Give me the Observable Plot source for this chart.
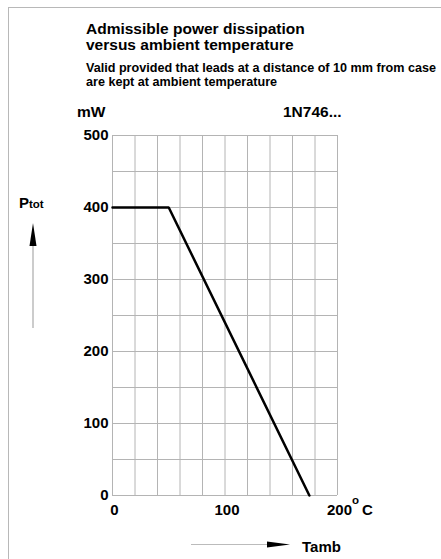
<!DOCTYPE html>
<html><head><meta charset="utf-8">
<script src="https://cdn.jsdelivr.net/npm/d3@7"></script>
<script src="https://cdn.jsdelivr.net/npm/@observablehq/plot@0.6"></script>
<style>
html,body{margin:0;padding:0;background:#fff;}
#wrap{position:relative;width:441px;height:559px;overflow:hidden;font-family:"Liberation Sans",Arial,sans-serif;}
#frame{position:absolute;left:8px;top:7px;width:500px;height:600px;border-left:1px solid #b8b8b8;border-top:1px solid #b8b8b8;}
#chart{position:absolute;left:0;top:0;}
</style></head>
<body><div id="wrap"><div id="frame"></div><div id="chart"></div></div>
<script>
// data
const temps = [0, 50, 175];          // ambient temperature, °C
const power = [400, 400, 0];         // admissible power, mW
const xTicks = [0, 100, 200];
const yTicks = [0, 100, 200, 300, 400, 500];
const xGrid = [0, 20, 40, 60, 80, 100, 120, 140, 160, 180, 200];
const yGrid = [0, 50, 100, 150, 200, 250, 300, 350, 400, 450, 500];
const titleLines = ["Admissible power dissipation", "versus ambient temperature"];
const subtitleLines = ["Valid provided that leads at a distance of 10 mm from case", "are kept at ambient temperature"];
const unitLabel = "mW";
const partLabel = "1N746...";

const rows = temps.map((t, i) => ({t, p: power[i]}));
const W = 441, H = 559;
const grid = {stroke: "#b4b4b4", strokeOpacity: 1, strokeWidth: 1};

const chart = Plot.plot({
  width: W, height: H,
  marginLeft: 112, marginRight: 104, marginTop: 135, marginBottom: 64,
  x: {domain: [0, 200]},
  y: {domain: [0, 500]},
  style: {fontFamily: "'Liberation Sans', Arial, sans-serif", fontSize: "15px", fontWeight: "bold", color: "#000", background: "transparent", overflow: "visible"},
  marks: [
    Plot.gridX(xGrid, grid),
    Plot.gridY(yGrid, grid),
    Plot.axisX(xTicks, {tickSize: 0, tickPadding: 9, label: null, fontSize: 15, fontWeight: "bold", dx: 2}),
    Plot.axisY(yTicks, {tickSize: 0, tickPadding: 4, label: null, fontSize: 15, fontWeight: "bold"}),
    Plot.line(rows, {x: "t", y: "p", stroke: "#000", strokeWidth: 2.5, strokeLinejoin: "miter"})
  ]
});
document.getElementById("chart").appendChild(chart);

const svg = d3.select(chart);
const g = svg.append("g").attr("font-family", "'Liberation Sans', Arial, sans-serif").attr("font-weight", "bold").attr("fill", "#000").attr("text-anchor", "start");
titleLines.forEach((s, i) => g.append("text").attr("x", 86).attr("y", 34 + i * 16).attr("font-size", 15.5).text(s));
subtitleLines.forEach((s, i) => g.append("text").attr("x", 86).attr("y", 72 + i * 14).attr("font-size", 12.6).text(s));
g.append("text").attr("x", 77).attr("y", 117).attr("font-size", 15.5).text(unitLabel);
g.append("text").attr("x", 283).attr("y", 117).attr("font-size", 15.5).text(partLabel);
// degree C
g.append("text").attr("x", 352).attr("y", 504).attr("font-size", 11.5).text("o");
g.append("text").attr("x", 362).attr("y", 515).attr("font-size", 15).text("C");
// Ptot
const pt = g.append("text").attr("x", 19).attr("y", 208).attr("font-size", 15);
pt.append("tspan").text("P");
pt.append("tspan").attr("font-size", 11.5).text("tot");
// vertical arrow
g.append("line").attr("x1", 33).attr("x2", 33).attr("y1", 328).attr("y2", 240).attr("stroke", "#999").attr("stroke-width", 1);
g.append("path").attr("d", "M33,223 L36.5,246 L29.5,246 Z").attr("fill", "#000");
// horizontal arrow
g.append("line").attr("x1", 191).attr("x2", 272).attr("y1", 544.5).attr("y2", 544.5).attr("stroke", "#bbb").attr("stroke-width", 1);
g.append("path").attr("d", "M290,544.5 L267,541.5 L267,547.5 Z").attr("fill", "#000");
g.append("text").attr("x", 302).attr("y", 552).attr("font-size", 15).text("Tamb");
</script></body></html>
